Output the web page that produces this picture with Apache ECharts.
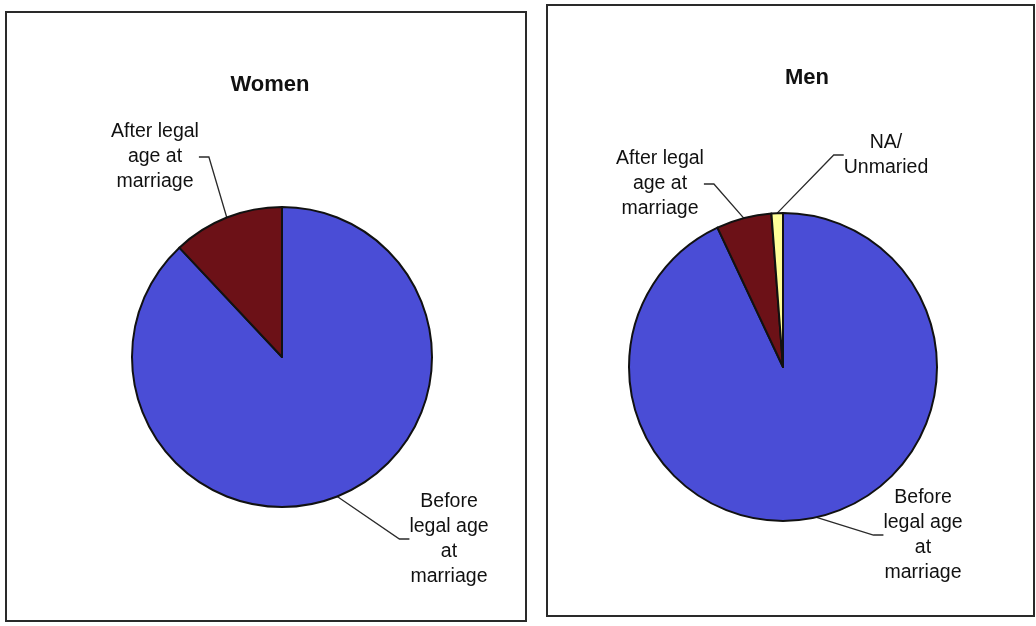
<!DOCTYPE html>
<html>
<head>
<meta charset="utf-8">
<script src="https://cdn.jsdelivr.net/npm/echarts@6/dist/echarts.min.js"></script>
<style>
html,body{margin:0;padding:0;background:#fff;}
#main{width:1036px;height:626px;}
</style>
</head>
<body>
<div id="main"></div>
<script>
// ---- data ----
const womenCategories = ['Before legal age at marriage', 'After legal age at marriage'];
const womenValues = [88, 12];
const menCategories = ['Before legal age at marriage', 'After legal age at marriage', 'NA/ Unmaried'];
const menValues = [93, 5.8, 1.2];
const womenLabels = ['Before\nlegal age\nat\nmarriage', 'After legal\nage at\nmarriage'];
const menLabels = ['Before\nlegal age\nat\nmarriage', 'After legal\nage at\nmarriage', 'NA/\nUnmaried'];
const chartTitles = ['Women', 'Men'];

// ---- styles ----
const BLUE = '#4a4dd6', RED = '#6c1117', YELLOW = '#ffff99';
const womenColors = [BLUE, RED];
const menColors = [BLUE, RED, YELLOW];
const womenLabelPos = [[449, 539], [155, 157]];
const menLabelPos = [[923, 535], [660, 184], [886, 155]];

function build(cats, vals, labels, colors) {
  return cats.map((c, i) => ({
    name: c, value: vals[i],
    itemStyle: { color: colors[i] },
    label: { formatter: labels[i] }
  }));
}

const labelStyle = {
  show: true, position: 'outside', color: '#111',
  fontFamily: 'Liberation Sans, Arial, sans-serif', fontSize: 19.5,
  lineHeight: 25, align: 'center'
};
const lineStyle = { show: true, length: 20, length2: 10, smooth: false,
  lineStyle: { color: '#2a2a2a', width: 1.3 } };

const chart = echarts.init(document.getElementById('main'), null, { renderer: 'canvas' });
chart.setOption({
  backgroundColor: '#ffffff',
  animation: false,
  graphic: [
    { type: 'rect', shape: { x: 6, y: 12, width: 520, height: 609 },
      style: { fill: 'none', stroke: '#2a2a2a', lineWidth: 2 }, z: -1 },
    { type: 'rect', shape: { x: 547, y: 5, width: 487, height: 611 },
      style: { fill: 'none', stroke: '#2a2a2a', lineWidth: 2 }, z: -1 }
  ],
  title: [
    { text: chartTitles[0], left: 265, top: 69, textAlign: 'center',
      textStyle: { fontFamily: 'Liberation Sans, Arial, sans-serif', fontSize: 22, fontWeight: 'bold', color: '#111' } },
    { text: chartTitles[1], left: 802, top: 62, textAlign: 'center',
      textStyle: { fontFamily: 'Liberation Sans, Arial, sans-serif', fontSize: 22, fontWeight: 'bold', color: '#111' } }
  ],
  series: [
    {
      type: 'pie', name: chartTitles[0],
      center: [282, 357], radius: 150,
      startAngle: 90, clockwise: true,
      itemStyle: { borderColor: '#111', borderWidth: 2 },
      label: labelStyle, labelLine: lineStyle,
      labelLayout: function (p) {
        const q = womenLabelPos[p.dataIndex];
        return { x: q[0], y: q[1], align: 'center', verticalAlign: 'middle' };
      },
      emphasis: { disabled: true },
      data: build(womenCategories, womenValues, womenLabels, womenColors)
    },
    {
      type: 'pie', name: chartTitles[1],
      center: [783, 367], radius: 154,
      startAngle: 90, clockwise: true,
      itemStyle: { borderColor: '#111', borderWidth: 2 },
      label: labelStyle, labelLine: lineStyle,
      labelLayout: function (p) {
        const q = menLabelPos[p.dataIndex];
        return { x: q[0], y: q[1], align: 'center', verticalAlign: 'middle' };
      },
      emphasis: { disabled: true },
      data: build(menCategories, menValues, menLabels, menColors)
    }
  ]
});
</script>
</body>
</html>
